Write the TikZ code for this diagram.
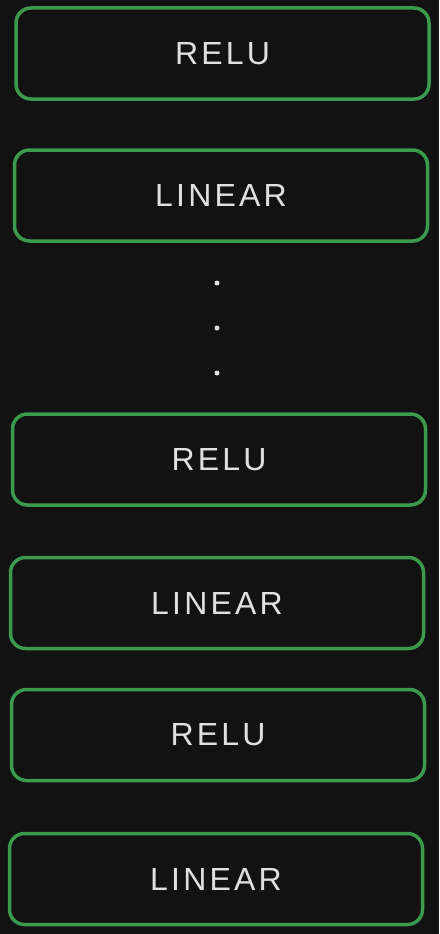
\documentclass[tikz,border=0pt]{standalone}
\usepackage{fontspec}
\newfontfamily\handfont[LetterSpace=10]{Liberation Sans}
\definecolor{bg}{HTML}{121212}
\definecolor{boxgreen}{HTML}{3B9A4B}
\definecolor{txt}{HTML}{E0E0E0}
\begin{document}
\begin{tikzpicture}[x=1pt,y=-1pt,
  layer/.style={draw=boxgreen,line width=3.5pt,rounded corners=15pt,fill=bg,
    minimum width=413pt,minimum height=91pt,inner sep=0pt,
    text=txt,font=\handfont\fontsize{32}{32}\selectfont},
  dotmark/.style={circle,fill=txt,inner sep=0pt,minimum size=5pt}]
\fill[bg] (0,0) rectangle (439,934);
\useasboundingbox (0,0) rectangle (439,934);
\node[layer] (r1) at (222.5,53.5) {RELU};
\node[layer] (l1) at (221,195.5) {LINEAR};
\node[dotmark] (d1) at (217,283) {};
\node[dotmark] (d2) at (217,328) {};
\node[dotmark] (d3) at (217,373) {};
\node[layer] (r2) at (219,459.5) {RELU};
\node[layer] (l2) at (217,603) {LINEAR};
\node[layer] (r3) at (218,735) {RELU};
\node[layer] (l3) at (216,879) {LINEAR};
\end{tikzpicture}
\end{document}
